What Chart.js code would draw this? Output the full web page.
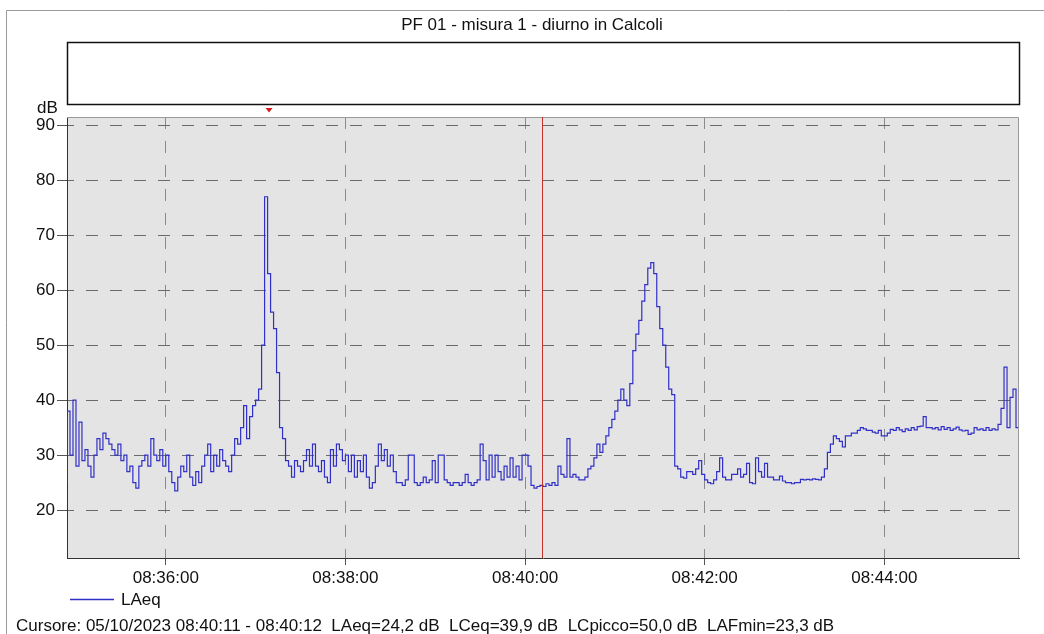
<!DOCTYPE html>
<html lang="it">
<head>
<meta charset="UTF-8">
<title>PF 01 - misura 1 - diurno in Calcoli</title>
<script src="https://cdn.jsdelivr.net/npm/chart.js@4.4.0/dist/chart.umd.min.js"></script>
<style>
    body {
        margin: 0;
        background: #ffffff;
    }
    .wrap {
        position: relative;
        width: 1044px;
        height: 634px;
    }
</style>
</head>
<body>
<div class="wrap"><canvas id="chart"></canvas></div>
<script>
    // chart texts
    const chartTitle = 'PF 01 - misura 1 - diurno in Calcoli';
    const seriesName = 'LAeq';
    const yUnit = 'dB';
    const cursorText = 'Cursore: 05/10/2023 08:40:11 - 08:40:12  LAeq=24,2 dB  LCeq=39,9 dB  LCpicco=50,0 dB  LAFmin=23,3 dB';

    // time range (one value every 2 seconds from startTime)
    const startTime = '08:34:54';
    const endTime = '08:45:30';
    const stepSec = 2;
    const cursorTime = '08:40:11';
    const peakTime = '08:37:09';

    const xTickLabels = ['08:36:00', '08:38:00', '08:40:00', '08:42:00', '08:44:00'];
    const yTickValues = [20, 30, 40, 50, 60, 70, 80, 90];

    // LAeq in dB (2 s steps)
    const laeq = [
        25, 38, 30, 40, 28, 36, 29, 31, 28, 26,
        30, 33, 31, 34, 33, 32, 31, 30, 32, 29,
        30, 27, 28, 25, 24, 28, 29, 30, 28, 33,
        30, 29, 31, 28, 30, 27, 25, 23.5, 26, 28,
        27, 30, 26, 24.5, 27, 25, 28, 30, 32, 27,
        30, 28, 31, 29, 28, 27, 30, 33, 32, 35,
        39, 33, 37, 39, 40, 42, 50, 77, 63, 56,
        53, 45, 35, 33, 29, 28, 26, 29, 28, 27,
        29, 31, 28, 32, 28, 27, 29, 26, 25, 31,
        28, 32, 31, 29, 30, 27, 30, 26, 29, 27,
        30, 26, 24, 25, 28, 32, 29, 31, 28, 30,
        27, 25, 25, 24.5, 25.5, 30, 30, 25, 24.5, 25,
        26, 25, 25.5, 29, 25, 30, 30, 25.5, 25, 24.5,
        25, 25, 24.5, 25, 26.5, 25, 24.5, 25, 25.5, 32,
        29, 25.5, 30, 26, 30, 27, 25.5, 28, 26, 29.5,
        26, 28, 25.5, 30, 30, 28, 24.5, 24, 24.3, 24.5,
        24.3, 24.8, 24.5, 25, 24.5, 28, 26.5, 26, 33, 26,
        26.5, 26, 25.5, 25.5, 26, 27.5, 28, 29.5, 32, 30.5,
        32, 33.5, 35, 36.5, 38, 40, 42, 40, 39, 43,
        49, 52, 54.5, 58, 61, 64, 65, 63, 57, 53,
        50, 46, 42, 41, 28, 27.5, 26, 25.8, 27, 27,
        26.5, 27.5, 29, 26.5, 25.5, 25, 24.8, 25.5, 27, 29.5,
        26, 25.5, 25.5, 26.5, 26.5, 27.5, 26, 26.5, 28.5, 25,
        24.8, 29.5, 27, 26, 28.5, 26, 26, 25.5, 25.5, 26.2,
        25.3, 25, 25, 24.8, 25, 25, 25.6, 25.5, 25.6, 25.5,
        25.7, 25.6, 25.5, 26, 27.5, 30.5, 32, 33.5, 33, 32.5,
        31.5, 33.5, 33.5, 34, 34, 34.5, 35, 34.8, 34.5, 34.5,
        34.2, 34, 34.5, 33.5, 33.5, 34, 34.7, 34.5, 35, 34.6,
        34.3, 34.8, 34.5, 35, 34.6, 35.2, 35.3, 37, 35, 35,
        34.8, 35, 34.6, 35.2, 34.7, 35, 34.5, 34.8, 35.1, 34.6,
        34.4, 34.5, 33.8, 34, 35, 34.6, 34.8, 34.5, 35, 34.5,
        34.8, 34.6, 35.6, 38.5, 46, 35, 40.5, 42, 35
    ];

    const FONT = '"Liberation Sans", Arial, sans-serif';
    const lineColor = '#3030c8';

    function toSec(s) {
        const p = s.split(':').map(Number);
        return p[0] * 3600 + p[1] * 60 + p[2];
    }
    function pad(n) {
        return String(n).padStart(2, '0');
    }
    function fmtTime(sec) {
        sec = Math.round(sec);
        return pad(Math.floor(sec / 3600)) + ':' + pad(Math.floor(sec / 60) % 60) + ':' + pad(sec % 60);
    }

    const t0 = toSec(startTime);
    const points = laeq.map((v, i) => ({ x: t0 + i * stepSec, y: v }));

    // frame, top box, labels, cursor, legend
    const decor = {
        id: 'decor',
        beforeDraw(chart) {
            const { ctx, chartArea: a } = chart;
            ctx.save();
            ctx.fillStyle = '#ffffff';
            ctx.fillRect(0, 0, chart.width, chart.height);

            // outer frame
            ctx.strokeStyle = '#9a9a9a';
            ctx.lineWidth = 1;
            ctx.beginPath();
            ctx.moveTo(6.5, chart.height);
            ctx.lineTo(6.5, 10.5);
            ctx.lineTo(chart.width, 10.5);
            ctx.stroke();

            // plot background
            ctx.fillStyle = '#e4e4e4';
            ctx.fillRect(a.left, a.top, a.right - a.left, a.bottom - a.top);

            // title
            ctx.fillStyle = '#111';
            ctx.font = '17px ' + FONT;
            ctx.textAlign = 'center';
            ctx.textBaseline = 'alphabetic';
            ctx.fillText(chartTitle, 532, 30);

            // empty box above the plot
            ctx.strokeStyle = '#111';
            ctx.lineWidth = 1.5;
            ctx.strokeRect(a.left + 0.5, 42.5, a.right - a.left, 62);

            // unit
            ctx.textAlign = 'left';
            ctx.fillText(yUnit, 37, 113);
            ctx.restore();
        },
        afterDatasetsDraw(chart) {
            const { ctx, chartArea: a, scales } = chart;
            ctx.save();
            // light border top/right
            ctx.strokeStyle = '#9a9a9a';
            ctx.lineWidth = 1;
            ctx.beginPath();
            ctx.moveTo(a.left, a.top + 0.5);
            ctx.lineTo(a.right - 0.5, a.top + 0.5);
            ctx.lineTo(a.right - 0.5, a.bottom);
            ctx.stroke();

            // cursor
            const cx = Math.round(scales.x.getPixelForValue(toSec(cursorTime))) + 0.5;
            ctx.strokeStyle = '#c4302a';
            ctx.beginPath();
            ctx.moveTo(cx, a.top);
            ctx.lineTo(cx, a.bottom);
            ctx.stroke();

            // max marker
            const px = scales.x.getPixelForValue(toSec(peakTime));
            ctx.fillStyle = '#d41a1a';
            ctx.beginPath();
            ctx.moveTo(px - 3.5, 108);
            ctx.lineTo(px + 3.5, 108);
            ctx.lineTo(px, 112.5);
            ctx.closePath();
            ctx.fill();
            ctx.restore();
        },
        afterDraw(chart) {
            const { ctx } = chart;
            ctx.save();
            // legend
            ctx.strokeStyle = lineColor;
            ctx.lineWidth = 1.5;
            ctx.beginPath();
            ctx.moveTo(70, 599.5);
            ctx.lineTo(114, 599.5);
            ctx.stroke();
            ctx.fillStyle = '#111';
            ctx.font = '17px ' + FONT;
            ctx.textBaseline = 'alphabetic';
            ctx.fillText(seriesName, 121, 605);

            // cursor readout
            ctx.fillText(cursorText, 16, 631);
            ctx.restore();
        }
    };

    new Chart(document.getElementById('chart'), {
        type: 'line',
        data: {
            datasets: [{
                label: seriesName,
                data: points,
                borderColor: lineColor,
                borderWidth: 1.2,
                pointRadius: 0,
                stepped: 'after',
                fill: false
            }]
        },
        options: {
            responsive: true,
            maintainAspectRatio: false,
            animation: false,
            events: [],
            layout: { padding: { top: 117, right: 25, bottom: 0, left: 0 } },
            plugins: {
                legend: { display: false },
                title: { display: false },
                tooltip: { enabled: false }
            },
            scales: {
                x: {
                    type: 'linear',
                    min: t0,
                    max: toSec(endTime),
                    afterBuildTicks: (axis) => {
                        axis.ticks = xTickLabels.map(s => ({ value: toSec(s) }));
                    },
                    afterFit: (axis) => { axis.height = 76; },
                    ticks: {
                        autoSkip: false,
                        maxRotation: 0,
                        padding: 3,
                        color: '#111',
                        font: { family: FONT, size: 17 },
                        callback: (v) => fmtTime(v)
                    },
                    grid: {
                        color: '#8a8a8a',
                        lineWidth: 1,
                        tickLength: 7,
                        tickColor: '#555'
                    },
                    border: { color: '#333', width: 1, dash: [12, 12], dashOffset: 0 }
                },
                y: {
                    min: 11.3,
                    max: 91.5,
                    afterBuildTicks: (axis) => {
                        axis.ticks = yTickValues.map(v => ({ value: v }));
                    },
                    afterFit: (axis) => { axis.width = 67; },
                    ticks: {
                        padding: 2,
                        color: '#111',
                        font: { family: FONT, size: 17 }
                    },
                    grid: {
                        color: '#6a6a6a',
                        lineWidth: 1,
                        tickLength: 10,
                        tickColor: '#555'
                    },
                    border: { color: '#333', width: 1, dash: [12, 12], dashOffset: 6 }
                }
            }
        },
        plugins: [decor]
    });
</script>
</body>
</html>
